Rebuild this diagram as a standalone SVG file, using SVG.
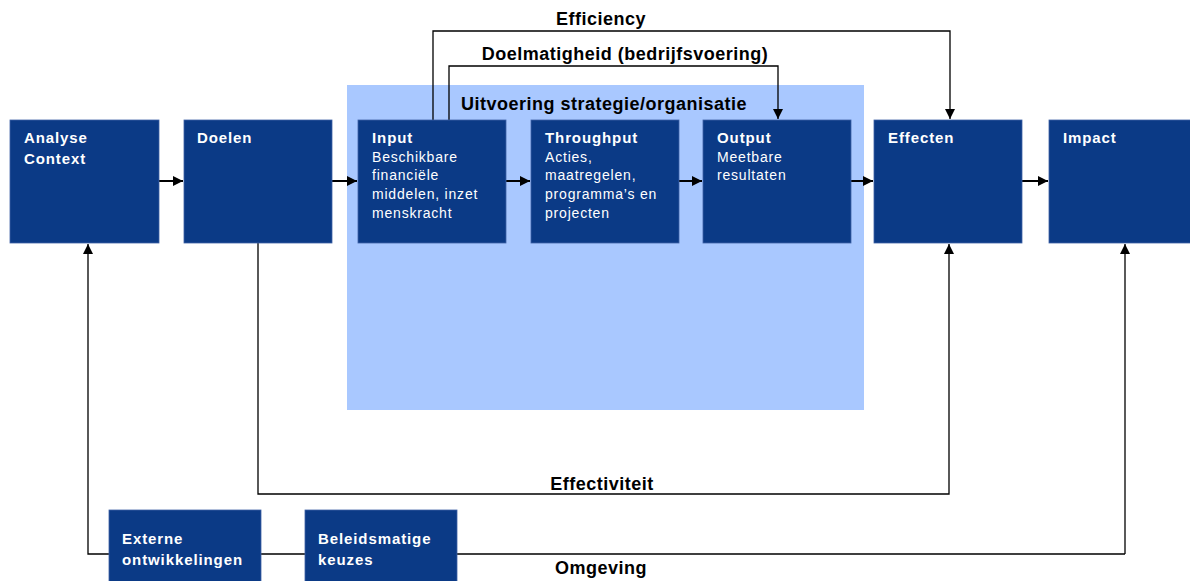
<svg xmlns="http://www.w3.org/2000/svg" width="1190" height="581" viewBox="0 0 1190 581">
<defs>
<style>
.box{fill:#0B3A86;stroke:#3F62A6;stroke-width:0.8}
.t{font-family:"Liberation Sans",Arial,sans-serif;font-weight:bold;font-size:15px;letter-spacing:0.9px;fill:#fff}
.b{font-family:"Liberation Sans",Arial,sans-serif;font-size:14px;letter-spacing:0.8px;fill:#fff}
.lbl{font-family:"Liberation Sans",Arial,sans-serif;font-weight:bold;font-size:18px;letter-spacing:0.5px;fill:#000}
.c{fill:none;stroke:#000;stroke-width:1.3}
.a{fill:none;stroke:#000;stroke-width:2}
</style>
<marker id="ah" viewBox="0 0 10 10" refX="10" refY="5" markerWidth="10" markerHeight="10" markerUnits="userSpaceOnUse" orient="auto">
<path d="M0,0 L10,5 L0,10 z" fill="#000"/>
</marker>
</defs>
<rect width="1190" height="581" fill="#fff"/>
<g id="uitvoering">
<rect x="347" y="85" width="517" height="325" fill="#A9C8FF"/>
<text class="lbl" x="604" y="110" text-anchor="middle">Uitvoering strategie/organisatie</text>
</g>
<g id="connectors">
<path class="c" d="M433,120 V31 H950 V119" marker-end="url(#ah)"/>
<path class="c" d="M449,120 V66 H778 V119" marker-end="url(#ah)"/>
<path class="c" d="M258,243 V494 H949 V244" marker-end="url(#ah)"/>
<path class="c" d="M1125,554 H88 V244" marker-end="url(#ah)"/>
<path class="c" d="M1125,554 V244" marker-end="url(#ah)"/>
<path class="a" d="M159,181 H183" marker-end="url(#ah)"/>
<path class="a" d="M332,181 H357" marker-end="url(#ah)"/>
<path class="a" d="M506,181 H530" marker-end="url(#ah)"/>
<path class="a" d="M679,181 H702" marker-end="url(#ah)"/>
<path class="a" d="M851,181 H873" marker-end="url(#ah)"/>
<path class="a" d="M1022,181 H1048" marker-end="url(#ah)"/>
<text class="lbl" x="601" y="25" text-anchor="middle">Efficiency</text>
<text class="lbl" x="625" y="60" text-anchor="middle">Doelmatigheid (bedrijfsvoering)</text>
<text class="lbl" x="602" y="490" text-anchor="middle">Effectiviteit</text>
<text class="lbl" x="601" y="574" text-anchor="middle">Omgeving</text>
</g>
<g id="analyse">
<rect class="box" x="10" y="120" width="149" height="123"/>
<text class="t" x="24" y="143">Analyse</text>
<text class="t" x="24" y="164">Context</text>
</g>
<g id="doelen">
<rect class="box" x="184" y="120" width="148" height="123"/>
<text class="t" x="197" y="143">Doelen</text>
</g>
<g id="input">
<rect class="box" x="358" y="120" width="148" height="123"/>
<text class="t" x="372" y="143">Input</text>
<text class="b" x="372" y="162">Beschikbare</text>
<text class="b" x="372" y="180">financiële</text>
<text class="b" x="372" y="199">middelen, inzet</text>
<text class="b" x="372" y="218">menskracht</text>
</g>
<g id="throughput">
<rect class="box" x="531" y="120" width="148" height="123"/>
<text class="t" x="545" y="143">Throughput</text>
<text class="b" x="545" y="162">Acties,</text>
<text class="b" x="545" y="180">maatregelen,</text>
<text class="b" x="545" y="199">programma’s en</text>
<text class="b" x="545" y="218">projecten</text>
</g>
<g id="output">
<rect class="box" x="703" y="120" width="148" height="123"/>
<text class="t" x="717" y="143">Output</text>
<text class="b" x="717" y="162">Meetbare</text>
<text class="b" x="717" y="180">resultaten</text>
</g>
<g id="effecten">
<rect class="box" x="874" y="120" width="148" height="123"/>
<text class="t" x="888" y="143">Effecten</text>
</g>
<g id="impact">
<rect class="box" x="1049" y="120" width="148" height="123"/>
<text class="t" x="1063" y="143">Impact</text>
</g>
<g id="externe">
<rect class="box" x="109" y="510" width="152" height="75"/>
<text class="t" x="122" y="544">Externe</text>
<text class="t" x="122" y="565">ontwikkelingen</text>
</g>
<g id="beleid">
<rect class="box" x="305" y="510" width="152" height="75"/>
<text class="t" x="318" y="544">Beleidsmatige</text>
<text class="t" x="318" y="565">keuzes</text>
</g>
</svg>
